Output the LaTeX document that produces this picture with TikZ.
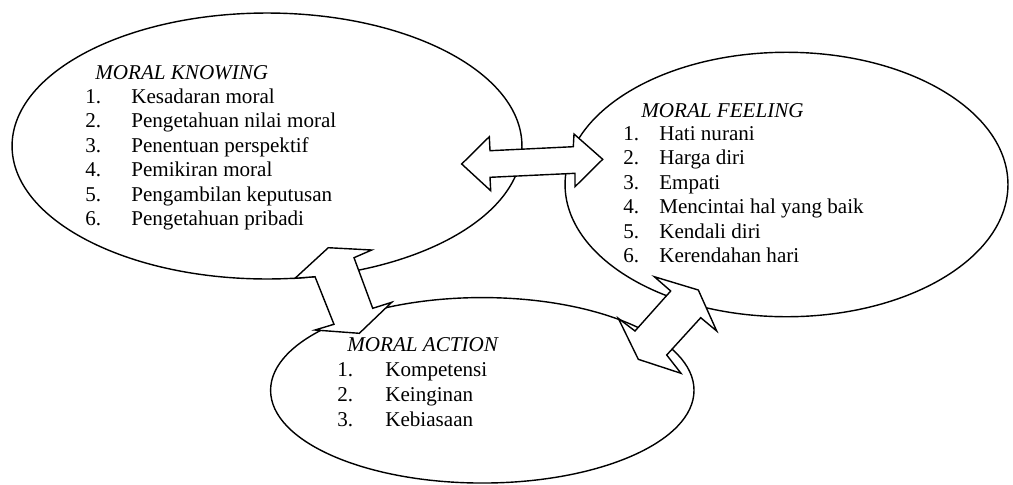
\documentclass[tikz,border=0pt]{standalone}
\usepackage{fontspec}
\setmainfont{Liberation Serif}
\usetikzlibrary{shapes.geometric}

\newcommand{\numbox}[2]{\makebox[#1][l]{#2}}

\begin{document}
\begin{tikzpicture}[x=0.02cm,y=-0.02cm,
  aspect/.style={draw,thick,ellipse,inner sep=0pt,outer sep=0pt},
  heading/.style={anchor=base west,inner sep=0pt,font=\fontsize{12}{14}\selectfont\itshape},
  entry/.style={anchor=base west,inner sep=0pt,font=\fontsize{12}{14}\selectfont},
  blockarrow/.style={draw,thick,fill=white,line join=miter}
]
  \useasboundingbox (0,0) rectangle (1013,484);
  \node[aspect,minimum width=10.2cm,minimum height=5.32cm] (knowing) at (267,146) {};
  \node[aspect,minimum width=8.86cm,minimum height=5.29cm] (feeling) at (786.5,184.5) {};
  \node[aspect,minimum width=8.47cm,minimum height=3.71cm] (action) at (482.3,390.3) {};

  % moral knowing
  \node[heading] (knowinghead) at (95,79) {MORAL KNOWING};
  \node[entry] (knowing1) at (85,103) {\numbox{0.92cm}{1.}Kesadaran moral};
  \node[entry] (knowing2) at (85,127.5) {\numbox{0.92cm}{2.}Pengetahuan nilai moral};
  \node[entry] (knowing3) at (85,152) {\numbox{0.92cm}{3.}Penentuan perspektif};
  \node[entry] (knowing4) at (85,176.5) {\numbox{0.92cm}{4.}Pemikiran moral};
  \node[entry] (knowing5) at (85,201) {\numbox{0.92cm}{5.}Pengambilan keputusan};
  \node[entry] (knowing6) at (85,225.5) {\numbox{0.92cm}{6.}Pengetahuan pribadi};

  % moral feeling
  \node[heading] (feelinghead) at (641,117) {MORAL FEELING};
  \node[entry] (feeling1) at (623,140) {\numbox{0.72cm}{1.}Hati nurani};
  \node[entry] (feeling2) at (623,164.5) {\numbox{0.72cm}{2.}Harga diri};
  \node[entry] (feeling3) at (623,189) {\numbox{0.72cm}{3.}Empati};
  \node[entry] (feeling4) at (623,213.5) {\numbox{0.72cm}{4.}Mencintai hal yang baik};
  \node[entry] (feeling5) at (623,238) {\numbox{0.72cm}{5.}Kendali diri};
  \node[entry] (feeling6) at (623,262.5) {\numbox{0.72cm}{6.}Kerendahan hari};

  % moral action
  \node[heading] (actionhead) at (347,351) {MORAL ACTION};
  \node[entry] (action1) at (337,376.7) {\numbox{0.96cm}{1.}Kompetensi};
  \node[entry] (action2) at (337,401.3) {\numbox{0.96cm}{2.}Keinginan};
  \node[entry] (action3) at (337,426) {\numbox{0.96cm}{3.}Kebiasaan};

  % double arrows between the ellipses
  \draw[blockarrow] (461.7,164) -- (489.3,136.7) -- (490,150.7) -- (573.3,146.7)
    -- (574,134) -- (602.7,159.3) -- (575,186.7) -- (575,173.3) -- (490,177.3)
    -- (490.7,190.7) -- cycle;
  \draw[blockarrow] (295,278.3) -- (328.3,247.7) -- (371.7,250) -- (354,257.7)
    -- (372.7,308.3) -- (391.7,302.3) -- (359.3,333.3) -- (315,330) -- (334,324.3)
    -- (315,276.7) -- cycle;
  \draw[blockarrow] (654.3,276.7) -- (698.3,290) -- (716.7,331) -- (700.7,317.7)
    -- (666.7,355) -- (681,373.3) -- (638.3,359.3) -- (618.3,318.3) -- (635,331)
    -- (670.7,291) -- cycle;
\end{tikzpicture}
\end{document}
